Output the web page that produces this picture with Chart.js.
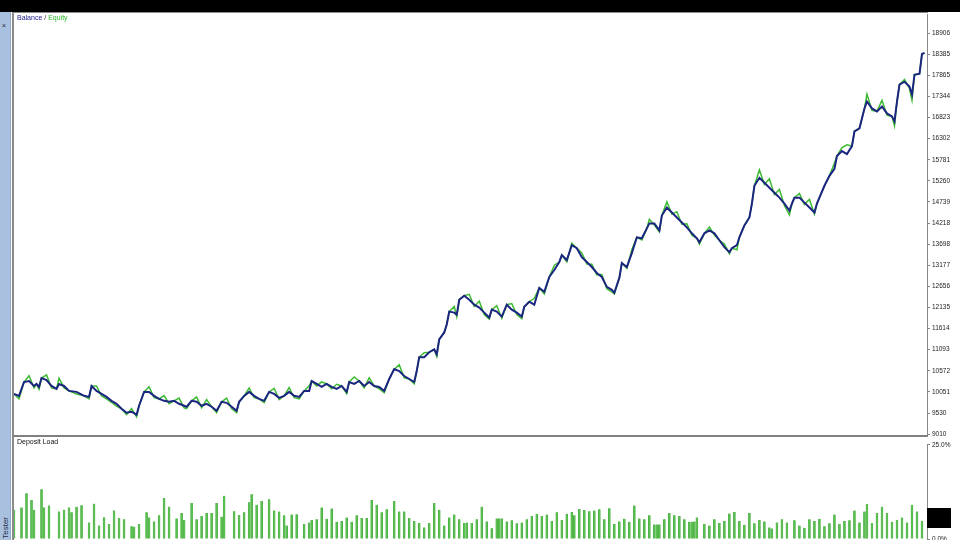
<!DOCTYPE html>
<html>
<head>
<meta charset="utf-8">
<script src="https://cdn.jsdelivr.net/npm/chart.js@4.4.1/dist/chart.umd.min.js"></script>
<style>
    html, body { margin: 0; padding: 0; width: 960px; height: 540px; overflow: hidden; background: #fff; font-family: "Liberation Sans", Arial, sans-serif; }
    #topbar { position: absolute; left: 0; top: 0; width: 960px; height: 12px; background: #000; }
    #side { position: absolute; left: 0; top: 12px; width: 10px; height: 528px; background: #a9c1df; border-right: 1px solid #8fa9ca; }
    #sideMark { position: absolute; left: 2px; top: 10px; font-size: 7px; color: #223; line-height: 7px; }
    #sideText { position: absolute; left: 1px; top: 617px; width: 100px; text-align: right; transform-origin: 0 0; transform: rotate(-90deg); white-space: nowrap; font-size: 8px; line-height: 9px; color: #1b2a48; }
    #frame { position: absolute; left: 12px; top: 12px; width: 914px; height: 540px; border-left: 2px solid #8a8a8a; border-top: 1px solid #8a8a8a; }
    #sep { position: absolute; left: 12px; top: 435px; width: 916px; height: 2px; background: #808080; }
    canvas { position: absolute; }
    #cTop { left: 14px; top: 9px; }
    #cLoad { left: 14px; top: 439px; }
    .lbl { position: absolute; font-size: 7px; line-height: 8px; white-space: nowrap; }
    #blk { position: absolute; left: 927px; top: 508px; width: 24px; height: 20px; background: #000; }
</style>
</head>
<body>
<div id="topbar"></div>
<div id="side"><div id="sideMark">&#215;</div></div>
<div id="sideText">Strategy Tester</div>
<div id="frame"></div>
<canvas id="cTop" width="946" height="431"></canvas>
<canvas id="cLoad" width="946" height="106"></canvas>
<div id="sep"></div>
<div class="lbl" style="left:17px; top:14px;"><span style="color:#1c1c8c;">Balance</span> <span style="color:#333;">/</span> <span style="color:#2fb52f;">Equity</span></div>
<div class="lbl" style="left:17px; top:438px; color:#111;">Deposit Load</div>
<div id="blk"></div>

<script>
// deal numbers along the test
const deals = [
    0, 2, 4, 6, 8, 9, 10, 11, 13, 15,
    17, 18, 20, 22, 25, 28, 30, 31, 33, 35,
    37, 39, 41, 43, 45, 47, 49, 50, 52, 54,
    56, 58, 60, 62, 64, 66, 68, 69, 71, 73,
    75, 77, 79, 81, 83, 85, 87, 89, 90, 92,
    94, 96, 98, 100, 102, 104, 106, 108, 110, 112,
    114, 116, 118, 119, 121, 123, 125, 127, 129, 131,
    133, 134, 136, 138, 140, 142, 144, 146, 148, 150,
    152, 154, 156, 158, 160, 161, 162, 164, 166, 168,
    169, 170, 172, 173, 174, 176, 177, 178, 180, 182,
    184, 186, 188, 190, 191, 193, 195, 197, 199, 201,
    203, 204, 206, 208, 210, 212, 214, 216, 218, 219,
    221, 223, 225, 227, 229, 231, 233, 235, 237, 239,
    240, 242, 243, 245, 247, 249, 251, 253, 254, 256,
    258, 259, 261, 263, 265, 267, 269, 271, 273, 274,
    276, 278, 280, 282, 284, 286, 287, 289, 290, 292,
    294, 295, 296, 298, 300, 302, 304, 306, 308, 310,
    311, 312, 314, 316, 318, 320, 321, 322, 324, 326,
    328, 329, 331, 333, 335, 336, 338, 340, 341, 343,
    345, 347, 349, 351, 352, 353, 354, 356, 358, 359,
    360, 362, 363, 364
];

const balance = [
    10003, 9954, 10296, 10321, 10198, 10247, 10174, 10394, 10345, 10198,
    10125, 10247, 10198, 10076, 10052, 9954, 9929, 10198, 10076, 10003,
    9929, 9831, 9758, 9636, 9538, 9562, 9489, 9709, 10052, 10052,
    9954, 9880, 9831, 9807, 9831, 9758, 9709, 9685, 9831, 9807,
    9709, 9758, 9685, 9587, 9807, 9782, 9685, 9587, 9807, 9954,
    10052, 9954, 9880, 9831, 10052, 10003, 9905, 9954, 10052, 9954,
    9929, 10076, 10076, 10321, 10247, 10174, 10247, 10174, 10125, 10198,
    10052, 10296, 10247, 10321, 10198, 10296, 10198, 10174, 10076, 10370,
    10614, 10565, 10443, 10370, 10296, 10565, 10908, 10908, 11030, 11103,
    10981, 11348, 11519, 11715, 12033, 12008, 11959, 12326, 12424, 12326,
    12204, 12131, 12008, 11886, 12082, 12033, 11910, 12204, 12082, 12008,
    11910, 12155, 12277, 12204, 12620, 12522, 12889, 13060, 13256, 13427,
    13305, 13672, 13598, 13378, 13256, 13133, 12987, 12889, 12644, 12571,
    12497, 12864, 13231, 13133, 13476, 13867, 13843, 14087, 14210, 14210,
    14038, 14405, 14601, 14479, 14356, 14234, 14112, 13965, 13843, 13745,
    13965, 14038, 13965, 13794, 13623, 13500, 13598, 13672, 13867, 14161,
    14356, 14699, 15139, 15335, 15213, 15090, 14968, 14846, 14699, 14528,
    14699, 14846, 14846, 14723, 14601, 14479, 14699, 14846, 15139, 15384,
    15555, 15873, 15995, 15922, 16118, 16484, 16558, 17047, 17218, 17047,
    16974, 17096, 16925, 16851, 16729, 17218, 17634, 17707, 17585, 17390,
    17879, 17903, 18392, 18417
];

const equity = [
    10003, 9880, 10296, 10450, 10150, 10247, 10120, 10394, 10470, 10150,
    10125, 10390, 10150, 10076, 10000, 9954, 9880, 10198, 10200, 9950,
    9880, 9790, 9700, 9636, 9490, 9640, 9440, 9709, 10052, 10180,
    9910, 9880, 9960, 9760, 9831, 9900, 9660, 9640, 9831, 9930,
    9660, 9860, 9685, 9540, 9807, 9900, 9640, 9540, 9807, 9954,
    10150, 9910, 9880, 9790, 10052, 10140, 9860, 9954, 10160, 9910,
    9880, 10076, 10200, 10321, 10200, 10300, 10247, 10130, 10240, 10198,
    10010, 10296, 10420, 10321, 10150, 10400, 10198, 10130, 10030, 10370,
    10614, 10720, 10400, 10370, 10250, 10565, 10908, 11020, 11030, 11103,
    10930, 11348, 11519, 11715, 12033, 12160, 11910, 12326, 12424, 12460,
    12160, 12290, 11960, 11850, 12082, 12180, 11870, 12204, 12230, 11960,
    11860, 12155, 12277, 12360, 12620, 12470, 12889, 13180, 13256, 13427,
    13260, 13720, 13598, 13480, 13210, 13200, 12940, 12950, 12600, 12520,
    12470, 12864, 13231, 13100, 13560, 13867, 13800, 14087, 14310, 14170,
    14000, 14405, 14740, 14440, 14500, 14190, 14200, 13920, 13843, 13700,
    13965, 14120, 13920, 13794, 13700, 13460, 13598, 13560, 13867, 14161,
    14356, 14699, 15139, 15530, 15170, 15310, 14920, 15050, 14650, 14420,
    14699, 14846, 14950, 14680, 14801, 14440, 14699, 14846, 15139, 15384,
    15700, 15873, 16080, 16150, 16118, 16484, 16558, 17047, 17400, 17000,
    16974, 17250, 16880, 16851, 16620, 17218, 17634, 17760, 17540, 17250,
    17879, 17903, 18392, 18417
];

const yTicks = [9010, 9530, 10051, 10572, 11093, 11614, 12135, 12656, 13177, 13698,
    14218, 14739, 15260, 15781, 16302, 16823, 17344, 17865, 18385, 18906];

// deposit load per deal, %
const loadDeals = [
    0, 3, 5, 7, 8, 11, 12, 14, 18, 20,
    22, 23, 25, 27, 30, 32, 34, 36, 38, 40,
    42, 44, 47, 48, 50, 53, 54, 56, 58, 60,
    62, 65, 67, 68, 71, 73, 75, 77, 79, 81,
    83, 84, 88, 90, 92, 94, 95, 97, 99, 102,
    104, 106, 108, 109, 111, 113, 116, 118, 119, 121,
    123, 125, 127, 129, 131, 133, 135, 137, 139, 141,
    143, 145, 147, 149, 152, 154, 156, 158, 160, 162,
    164, 166, 168, 170, 172, 174, 176, 178, 180, 181,
    183, 185, 187, 189, 191, 193, 194, 195, 197, 199,
    201, 203, 205, 207, 209, 211, 213, 215, 217, 219,
    221, 223, 224, 226, 228, 230, 232, 234, 236, 238,
    240, 242, 244, 246, 248, 250, 252, 254, 256, 257,
    258, 260, 262, 264, 266, 268, 270, 271, 272, 273,
    276, 278, 280, 282, 284, 286, 288, 290, 292, 294,
    296, 298, 300, 302, 303, 305, 307, 309, 312, 314,
    316, 318, 320, 322, 324, 326, 328, 330, 332, 334,
    336, 338, 340, 341, 343, 345, 347, 349, 351, 353,
    355, 357, 359, 361, 363
];

const load = [
    7.8, 8.4, 12.2, 10.4, 7.8, 13.2, 8.4, 8.9, 7.3, 7.8,
    8.4, 7.1, 8.6, 9.0, 4.4, 9.4, 3.6, 5.8, 4.0, 7.6,
    5.6, 5.3, 3.4, 3.3, 4.0, 7.1, 5.7, 4.7, 6.3, 10.9,
    8.6, 5.5, 6.9, 5.1, 9.6, 5.3, 6.1, 6.9, 6.9, 9.6,
    5.9, 11.5, 7.4, 6.4, 7.1, 9.8, 11.9, 9.1, 10.1, 10.6,
    7.6, 7.3, 6.3, 3.6, 6.5, 6.6, 4.0, 4.4, 5.1, 5.3,
    8.4, 5.4, 8.1, 4.6, 4.8, 5.7, 4.6, 6.3, 5.6, 5.6,
    10.4, 9.1, 7.1, 7.9, 10.1, 7.3, 7.3, 5.6, 4.8, 4.3,
    3.1, 4.3, 9.6, 7.8, 3.6, 5.7, 6.5, 5.3, 4.3, 4.4,
    4.3, 5.3, 8.6, 4.7, 2.9, 5.5, 5.5, 5.5, 4.7, 5.0,
    4.2, 4.4, 5.3, 6.1, 6.7, 6.1, 6.5, 4.8, 7.1, 5.1,
    6.7, 7.2, 6.3, 8.0, 7.7, 7.4, 7.6, 7.9, 5.3, 8.2,
    4.0, 4.7, 5.4, 4.6, 8.9, 5.5, 5.3, 6.3, 3.9, 3.9,
    3.9, 5.3, 6.9, 6.3, 6.1, 5.3, 4.6, 4.6, 4.7, 5.7,
    4.0, 3.6, 5.3, 4.3, 4.8, 6.8, 7.2, 4.8, 3.8, 6.9,
    4.2, 5.1, 4.7, 3.1, 2.8, 4.4, 5.3, 4.4, 5.0, 3.6,
    3.0, 5.3, 4.8, 5.4, 3.4, 4.2, 6.5, 4.0, 4.8, 5.0,
    7.6, 4.4, 7.3, 9.3, 4.3, 6.9, 8.6, 6.9, 4.6, 5.1,
    5.7, 4.4, 9.1, 7.3, 4.8
];

const loadTicks = [0, 25];

const tickFont = { family: '"Liberation Sans", Arial, sans-serif', size: 6.5 };

function rightAxis(min, max, tickList, fmt) {
    return {
        position: 'right',
        min: min,
        max: max,
        afterBuildTicks: s => { s.ticks = tickList.map(v => ({ value: v })); },
        afterFit: s => { s.width = 33; },
        ticks: { font: tickFont, color: '#222', padding: 2, callback: fmt },
        grid: { drawOnChartArea: false, tickLength: 3, color: '#888' },
        border: { display: true, color: '#888', width: 1 }
    };
}

new Chart(document.getElementById('cTop'), {
    type: 'line',
    data: {
        datasets: [{
            label: 'Balance',
            data: deals.map((d, i) => ({ x: d, y: balance[i] })),
            borderColor: '#1c2580',
            borderWidth: 2,
            pointRadius: 0,
            tension: 0,
            order: 0
        }, {
            label: 'Equity',
            data: deals.map((d, i) => ({ x: d, y: equity[i] })),
            borderColor: '#3cbb32',
            borderWidth: 1.5,
            pointRadius: 0,
            tension: 0,
            order: 1
        }]
    },
    options: {
        responsive: false,
        animation: false,
        layout: { padding: 0 },
        plugins: { legend: { display: false }, tooltip: { enabled: false } },
        scales: {
            x: { type: 'linear', min: 0, max: 365, display: false },
            y: rightAxis(9010, 19356, yTicks, v => String(v))
        }
    }
});

new Chart(document.getElementById('cLoad'), {
    type: 'bar',
    data: {
        datasets: [{
            label: 'Deposit Load',
            data: loadDeals.map((d, i) => ({ x: d, y: load[i] })),
            backgroundColor: '#5cbf52',
            borderColor: '#3fa83a',
            borderWidth: { left: 0.5, right: 0.5, top: 0, bottom: 0 },
            barThickness: 2
        }]
    },
    options: {
        responsive: false,
        animation: false,
        layout: { padding: 0 },
        plugins: { legend: { display: false }, tooltip: { enabled: false } },
        scales: {
            x: { type: 'linear', min: 0, max: 365, offset: false, display: false },
            y: rightAxis(0, 25, loadTicks, v => v.toFixed(1) + '%')
        }
    }
});
</script>
</body>
</html>
